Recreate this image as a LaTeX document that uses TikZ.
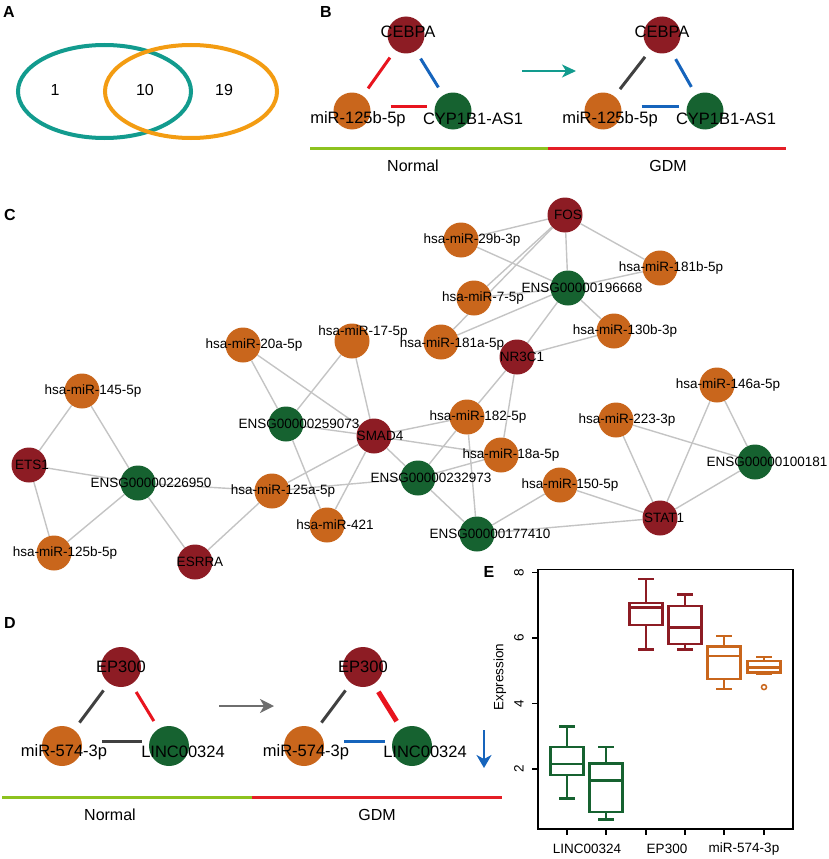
\documentclass[tikz,border=0pt]{standalone}
\usepackage{fontspec}
\setmainfont{Liberation Sans}
\usetikzlibrary{arrows.meta}
\pgfdeclarelayer{bg}
\pgfsetlayers{bg,main}
\definecolor{genered}{RGB}{141,28,36}
\definecolor{mirorange}{RGB}{201,102,28}
\definecolor{lncgreen}{RGB}{22,98,48}
\definecolor{edgegray}{RGB}{196,196,196}
\definecolor{vennteal}{RGB}{18,155,142}
\definecolor{vennorange}{RGB}{243,156,18}
\definecolor{linkred}{RGB}{232,20,30}
\definecolor{linkblue}{RGB}{22,100,188}
\definecolor{linkgray}{RGB}{64,64,64}
\definecolor{arrowgray}{RGB}{110,110,110}
\definecolor{basegreen}{RGB}{141,194,31}
\definecolor{basered}{RGB}{228,30,38}
\tikzset{
  nd/.style={circle,inner sep=0pt,minimum size=35pt},
  gene/.style={nd,fill=genered},
  mir/.style={nd,fill=mirorange},
  lnc/.style={nd,fill=lncgreen},
  lbl/.style={font=\fontsize{13.5}{16}\selectfont,inner sep=0pt},
  bnd/.style={circle,inner sep=0pt,minimum size=#1},
  bnd/.default=37pt,
  blbl/.style={font=\fontsize{16.5}{19}\selectfont,inner sep=0pt},
  cedge/.style={draw=edgegray,line width=1.4pt},
  lnk/.style={line width=3pt,shorten <=9pt,shorten >=9pt},
  hlnk/.style={line width=3pt,shorten <=20pt,shorten >=7pt},
  panel/.style={font=\fontsize{16}{18}\selectfont\bfseries},
  txt/.style={font=\fontsize{16}{19}\selectfont},
  bx/.style={line width=2.8pt},
}
\begin{document}
\begin{tikzpicture}[x=1pt,y=-1pt]
\useasboundingbox (0,0) rectangle (829,859);
% venn
\node[panel] at (9,12) {A};
\draw[vennteal,line width=4pt] (104.5,91.5) ellipse [x radius=86.5pt, y radius=46.5pt];
\draw[vennorange,line width=4pt] (191,91.5) ellipse [x radius=86pt, y radius=46.5pt];
\node[txt] at (55,90) {1};
\node[txt] at (145,90) {10};
\node[txt] at (224,90) {19};
% triangle B
\node[panel] at (326,12) {B};
\node[bnd,fill=genered,label={[blbl,xshift=2pt,yshift=3pt]center:CEBPA}] (cebpaN) at (406,35) {};
\node[bnd,fill=mirorange,label={[blbl,xshift=6pt,yshift=-8pt]center:miR-125b-5p}] (mirN) at (352,111) {};
\node[bnd,fill=lncgreen,label={[blbl,xshift=20pt,yshift=-8pt]center:CYP1B1-AS1}] (cypN) at (453,111) {};
\draw[lnk,linkred] (cebpaN) -- (mirN);
\draw[lnk,linkblue] (cebpaN) -- (cypN);
\draw[hlnk,linkred] ([yshift=5pt]mirN.east) -- ([yshift=5pt]cypN.west);
\node[bnd,fill=genered,label={[blbl,xshift=0pt,yshift=3pt]center:CEBPA}] (cebpaG) at (662,35) {};
\node[bnd,fill=mirorange,label={[blbl,xshift=7pt,yshift=-8pt]center:miR-125b-5p}] (mirG) at (603,111) {};
\node[bnd,fill=lncgreen,label={[blbl,xshift=21pt,yshift=-8pt]center:CYP1B1-AS1}] (cypG) at (705,111) {};
\draw[lnk,linkgray] (cebpaG) -- (mirG);
\draw[lnk,linkblue] (cebpaG) -- (cypG);
\draw[hlnk,linkblue] ([yshift=5pt]mirG.east) -- ([yshift=5pt]cypG.west);
\coordinate (arrBs) at (522,71);
\coordinate (arrBe) at (576,71);
\draw[vennteal,line width=1.6pt,-{Stealth[length=14pt,width=13pt,inset=4pt]}] (arrBs) -- (arrBe);
\draw[basegreen,line width=3pt] (310,148) -- (548,148);
\draw[basered,line width=3pt] (548,148) -- (786,148);
\node[txt] at (413,166) {Normal};
\node[txt] at (668,166) {GDM};
% reseau C
\node[panel] at (10,215) {C};
\node[gene,label={[lbl,xshift=3pt]center:ETS1}] (ets) at (29,465) {};
\node[gene,label={[lbl,xshift=5pt]center:ESRRA}] (esrra) at (195,562) {};
\node[gene,label={[lbl,xshift=6pt]center:SMAD4}] (smad) at (374,436) {};
\node[gene,label={[lbl,xshift=3pt]center:FOS}] (fos) at (565,215) {};
\node[gene,label={[lbl,xshift=5pt]center:NR3C1}] (nr) at (517,357) {};
\node[gene,label={[lbl,xshift=4pt]center:STAT1}] (stat) at (660,518) {};
\node[mir,label={[lbl,xshift=11pt]center:hsa-miR-145-5p}] (m145) at (82,391) {};
\node[mir,label={[lbl,xshift=11pt]center:hsa-miR-125b-5p}] (m125b) at (54,553) {};
\node[mir,label={[lbl,xshift=11pt]center:hsa-miR-125a-5p}] (m125a) at (272,491) {};
\node[mir,label={[lbl,xshift=8pt]center:hsa-miR-421}] (m421) at (327,525) {};
\node[mir,label={[lbl,xshift=11pt]center:hsa-miR-20a-5p}] (m20a) at (243,345) {};
\node[mir,label={[lbl,xshift=11pt,yshift=9pt]center:hsa-miR-17-5p}] (m17) at (352,341) {};
\node[mir,label={[lbl,xshift=11pt]center:hsa-miR-29b-3p}] (m29b) at (461,240) {};
\node[mir,label={[lbl,xshift=9pt]center:hsa-miR-7-5p}] (m7) at (474,298) {};
\node[mir,label={[lbl,xshift=11pt,yshift=-2pt]center:hsa-miR-181a-5p}] (m181a) at (441,342) {};
\node[mir,label={[lbl,xshift=11pt]center:hsa-miR-181b-5p}] (m181b) at (660,268) {};
\node[mir,label={[lbl,xshift=11pt]center:hsa-miR-130b-3p}] (m130b) at (614,331) {};
\node[mir,label={[lbl,xshift=11pt]center:hsa-miR-182-5p}] (m182) at (467,417) {};
\node[mir,label={[lbl,xshift=10pt]center:hsa-miR-18a-5p}] (m18a) at (501,455) {};
\node[mir,label={[lbl,xshift=10pt]center:hsa-miR-150-5p}] (m150) at (560,485) {};
\node[mir,label={[lbl,xshift=11pt]center:hsa-miR-223-3p}] (m223) at (616,420) {};
\node[mir,label={[lbl,xshift=11pt]center:hsa-miR-146a-5p}] (m146a) at (717,385) {};
\node[lnc,label={[lbl,xshift=13pt]center:ENSG00000226950}] (l226) at (138,483) {};
\node[lnc,label={[lbl,xshift=13pt]center:ENSG00000259073}] (l259) at (286,424) {};
\node[lnc,label={[lbl,xshift=13pt]center:ENSG00000232973}] (l232) at (418,478) {};
\node[lnc,label={[lbl,xshift=13pt]center:ENSG00000177410}] (l177) at (477,534) {};
\node[lnc,label={[lbl,xshift=14pt]center:ENSG00000196668}] (l196) at (568,288) {};
\node[lnc,label={[lbl,xshift=12pt]center:ENSG00000100181}] (l100) at (755,462) {};
\begin{pgfonlayer}{bg}
\foreach \a/\b in {m145/ets,m145/l226,ets/l226,ets/m125b,m125b/l226,l226/esrra,
    l226/m125a,esrra/m125a,m125a/smad,m125a/l232,m20a/l259,m20a/smad,m17/l259,
    m17/smad,l259/smad,l259/m421,smad/m421,smad/l232,smad/m182,smad/m18a,m182/nr,
    m18a/nr,m182/l232,m182/l177,m18a/l232,l232/l177,l177/m150,l177/stat,m150/stat,
    m223/stat,m223/l100,m146a/stat,m146a/l100,l100/stat,fos/m29b,fos/m7,fos/m181a,
    fos/l196,fos/m181b,m29b/l196,m7/l196,m181a/l196,l196/m181b,l196/m130b,l196/nr,
    nr/m130b}
    \draw[cedge] (\a) -- (\b);
\end{pgfonlayer}
% triangle D
\node[panel] at (10,623) {D};
\node[bnd=40pt,fill=genered,label={[blbl]center:EP300}] (epN) at (121,667) {};
\node[bnd=40pt,fill=mirorange,label={[blbl,xshift=2pt,yshift=-6pt]center:miR-574-3p}] (mirDN) at (62,746) {};
\node[bnd=40pt,fill=lncgreen,label={[blbl,xshift=14pt,yshift=-6pt]center:LINC00324}] (lincN) at (169,746) {};
\draw[lnk,linkgray] (epN) -- (mirDN);
\draw[lnk,linkred] (epN) -- (lincN);
\draw[hlnk,linkgray] ([yshift=5pt]mirDN.east) -- ([yshift=5pt]lincN.west);
\node[bnd=40pt,fill=genered,label={[blbl]center:EP300}] (epG) at (363,667) {};
\node[bnd=40pt,fill=mirorange,label={[blbl,xshift=2pt,yshift=-6pt]center:miR-574-3p}] (mirDG) at (304,746) {};
\node[bnd=40pt,fill=lncgreen,label={[blbl,xshift=13pt,yshift=-6pt]center:LINC00324}] (lincG) at (412,746) {};
\draw[lnk,linkgray] (epG) -- (mirDG);
\draw[lnk,linkred,line width=5pt] (epG) -- (lincG);
\draw[hlnk,linkblue] ([yshift=5pt]mirDG.east) -- ([yshift=5pt]lincG.west);
\coordinate (arrDs) at (219,706);
\coordinate (arrDe) at (274,706);
\draw[arrowgray,line width=1.6pt,-{Stealth[length=14pt,width=14pt,inset=4pt]}] (arrDs) -- (arrDe);
\coordinate (downs) at (484,730);
\coordinate (downe) at (484,768);
\draw[linkblue,line width=2pt,-{Stealth[length=13pt,width=15pt,inset=4pt]}] (downs) -- (downe);
\draw[basegreen,line width=3pt] (2,797) -- (252,797);
\draw[basered,line width=3pt] (252,797) -- (502,797);
\node[txt] at (110,815) {Normal};
\node[txt] at (377,815) {GDM};
% boxplot E
\node[panel] at (489,572) {E};
\begin{scope}[shift={(0,834.5)},y=32.75pt]
\draw[line width=1.2pt] (538,0.17) rectangle (793,8.08);
\foreach \v in {2,4,6,8}
    {
    \draw[line width=1.2pt] (532,\v) -- (538,\v);
    \node[lbl,rotate=90] at (519,\v) {\v};
    }
\foreach \x in {567,606,646,685,724,764}
    \draw[line width=1.2pt] (\x,0.17) -- ++(0,-6pt);
\node[lbl] at (587,-0.44) {LINC00324};
\node[lbl] at (667,-0.44) {EP300};
\node[lbl] at (744,-0.44) {miR-574-3p};
\node[lbl,rotate=90] at (500,4.81) {Expression};
\foreach \x/\lo/\qa/\md/\qb/\hi/\col in {567/1.11/1.82/2.15/2.67/3.31/lncgreen,
    606/0.47/0.69/1.66/2.18/2.67/lncgreen,646/5.64/6.40/6.92/7.07/7.80/genered,
    685/5.64/5.82/6.31/6.98/7.34/genered,724/4.44/4.75/5.45/5.73/6.06/mirorange,
    764/4.90/4.94/5.09/5.30/5.42/mirorange}
    {
    \draw[bx,draw=\col] ({\x-16.5},\qa) rectangle ({\x+16.5},\qb);
    \draw[bx,draw=\col] ({\x-16.5},\md) -- ({\x+16.5},\md);
    \draw[bx,draw=\col] (\x,\qb) -- (\x,\hi);
    \draw[bx,draw=\col] (\x,\qa) -- (\x,\lo);
    \draw[bx,draw=\col] ({\x-8},\hi) -- ({\x+8},\hi);
    \draw[bx,draw=\col] ({\x-8},\lo) -- ({\x+8},\lo);
    }
\draw[draw=mirorange,line width=1.5pt] (764,4.50) circle (2.5pt);
\end{scope}
\end{tikzpicture}
\end{document}
